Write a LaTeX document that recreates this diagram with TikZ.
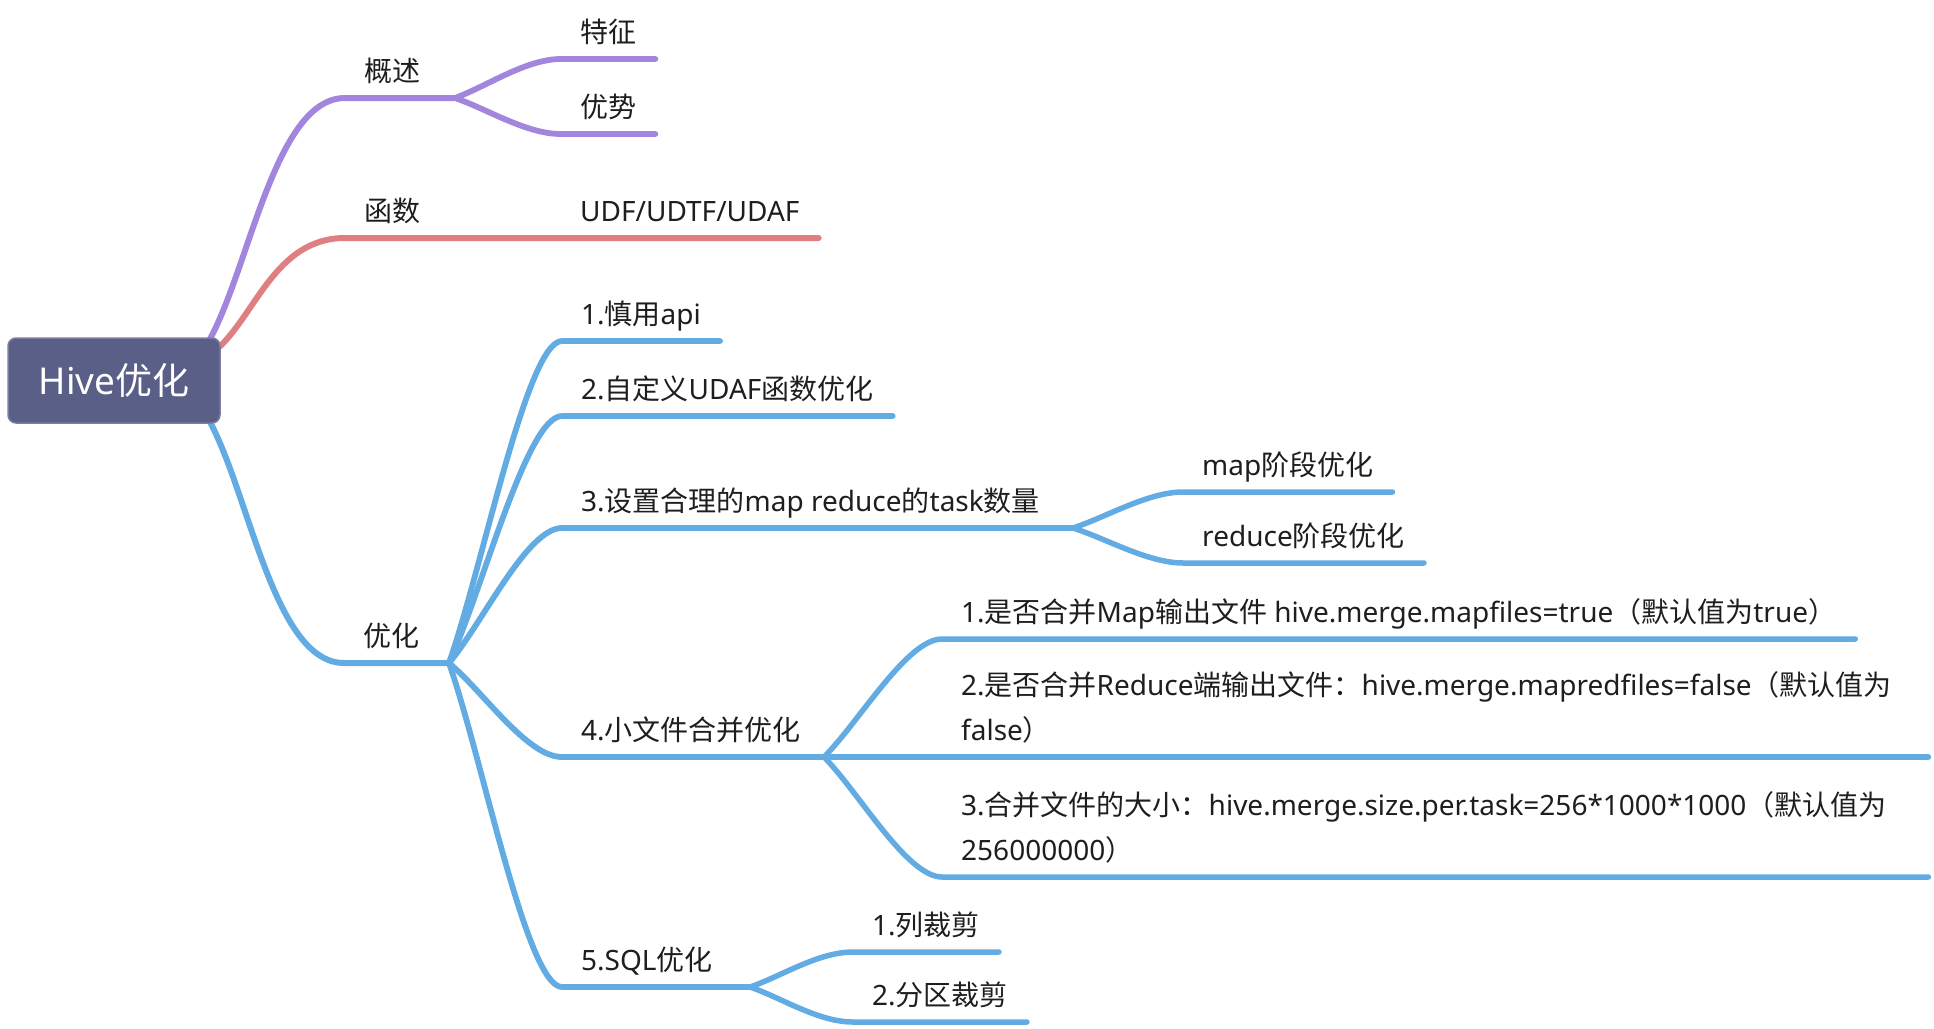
\documentclass[tikz,border=0pt]{standalone}
\usepackage{fontspec}
\setmainfont{Noto Sans}
\newfontfamily\cjkfont{Noto Sans CJK SC}
\usetikzlibrary{calc,backgrounds}

% ideographs and full-width marks go to the CJK face
\XeTeXinterchartokenstate=1
\newXeTeXintercharclass\hanclass
\newcount\hanchar
\hanchar="4E00
\loop
  \XeTeXcharclass\hanchar=\hanclass
  \advance\hanchar by 1
\ifnum\hanchar<"A000 \repeat
\XeTeXcharclass"FF08=\hanclass
\XeTeXcharclass"FF09=\hanclass
\XeTeXcharclass"FF1A=\hanclass
\XeTeXinterchartoks 0 \hanclass = {\cjkfont}
\XeTeXinterchartoks 4095 \hanclass = {\cjkfont}
\XeTeXinterchartoks \hanclass 0 = {\rmfamily}
\XeTeXinterchartoks \hanclass 4095 = {\rmfamily}

\definecolor{hvInk}   {RGB}{ 30, 30, 30}
\definecolor{hvRoot}  {RGB}{ 90, 95,135}
\definecolor{hvPurple}{RGB}{162,134,222}
\definecolor{hvRed}   {RGB}{224,127,129}
\definecolor{hvBlue}  {RGB}{ 99,171,227}

\begin{document}
\begin{tikzpicture}[x=1pt,y=-1pt,
  every node/.style={font=\fontsize{28}{45}\selectfont,text=hvInk},
  hub/.style={fill=hvRoot,draw=hvRoot!80!white,line width=1.5pt,
              rounded corners=8pt,minimum width=212pt,minimum height=85pt,
              text=white,font=\fontsize{37}{40}\selectfont},
  topic/.style={anchor=south west,inner xsep=19pt,inner ysep=0pt,
                text depth=16.5pt},
  wide/.style={topic,text width=948pt,align=left,text depth=61.5pt},
  limb/.style={line width=6pt,line cap=round},
  sprig/.style={line width=5.8pt,line cap=round},
  leaf/.style={line width=5.5pt,line cap=round},
  twig/.style={to path={.. controls ($(\tikztostart)!0.3!(\tikztotarget)$)
                 and ([xshift=-#1]\tikztotarget) .. (\tikztotarget)}},
  twig/.default=35pt
]
\useasboundingbox (0,0) rectangle (1934,1028);

\node[hub] (hive) at (114,380.5) {Hive优化};

\node[topic] (ov)  at (345,98)  {概述};
\node[topic] (fn)  at (345,238) {函数};
\node[topic] (yh)  at (344,663) {优化};

\node[topic] (tz)  at (561,59)  {特征};
\node[topic] (ys)  at (561,134) {优势};
\node[topic] (udf) at (561,238) {UDF/UDTF/UDAF};
\node[topic] (a1)  at (562,341) {1.慎用api};
\node[topic] (a2)  at (562,416) {2.自定义UDAF函数优化};
\node[topic] (a3)  at (562,528) {3.设置合理的map reduce的task数量};
\node[topic] (a4)  at (562,757) {4.小文件合并优化};
\node[topic] (a5)  at (562,987) {5.SQL优化};

\node[topic] (b1)  at (1183,492) {map阶段优化};
\node[topic] (b2)  at (1183,563) {reduce阶段优化};

\node[topic] (c1)  at (942,639)
  {1.是否合并Map输出文件 hive.merge.mapfiles=true（默认值为true）};
\node[wide]  (c2)  at (942,757)
  {2.是否合并Reduce端输出文件：hive.merge.mapredfiles=false（默认值为\\false）};
\node[wide]  (c3)  at (942,877)
  {3.合并文件的大小：hive.merge.size.per.task=256*1000*1000（默认值为\\256000000）};

\node[topic] (d1)  at (853,952)  {1.列裁剪};
\node[topic] (d2)  at (853,1022) {2.分区裁剪};

\coordinate (hiveN) at ([xshift=-12pt,yshift=-4pt]hive.north east);
\coordinate (hiveE) at ([xshift=-4pt,yshift=-12pt]hive.north east);
\coordinate (hiveS) at ([xshift=-12pt,yshift=4pt]hive.south east);
\coordinate (ovF) at (455,98);
\coordinate (yhF) at (449,663);
\coordinate (a3F) at (1073,528);
\coordinate (a4F) at (824,757);
\coordinate (a5F) at (750,987);

\begin{scope}[on background layer]
% main limbs
\draw[limb,hvPurple] (hiveN) to[twig=70pt] (ov.south west) -- (ovF);
\draw[limb,hvRed]    (hiveE) to[twig=70pt] (fn.south west) -- (udf.south east);
\draw[limb,hvBlue]   (hiveS) to[twig=70pt] (yh.south west) -- (yhF);

\draw[sprig,hvPurple] (ovF) to[twig] (tz.south west) -- (tz.south east);
\draw[sprig,hvPurple] (ovF) to[twig] (ys.south west) -- (ys.south east);

\draw[sprig,hvBlue] (yhF) to[twig] (a1.south west) -- (a1.south east);
\draw[sprig,hvBlue] (yhF) to[twig] (a2.south west) -- (a2.south east);
\draw[sprig,hvBlue] (yhF) to[twig] (a3.south west) -- (a3F);
\draw[sprig,hvBlue] (yhF) to[twig] (a4.south west) -- (a4F);
\draw[sprig,hvBlue] (yhF) to[twig] (a5.south west) -- (a5F);

\draw[leaf,hvBlue] (a3F) to[twig] (b1.south west) -- (b1.south east);
\draw[leaf,hvBlue] (a3F) to[twig] (b2.south west) -- (b2.south east);

\draw[leaf,hvBlue] (a4F) to[twig] (c1.south west) -- (c1.south east);
\draw[leaf,hvBlue] (a4F) -- (c2.south east);
\draw[leaf,hvBlue] (a4F) to[twig] (c3.south west) -- (c3.south east);

\draw[leaf,hvBlue] (a5F) to[twig] (d1.south west) -- (d1.south east);
\draw[leaf,hvBlue] (a5F) to[twig] (d2.south west) -- (d2.south east);
\end{scope}
\end{tikzpicture}
\end{document}
